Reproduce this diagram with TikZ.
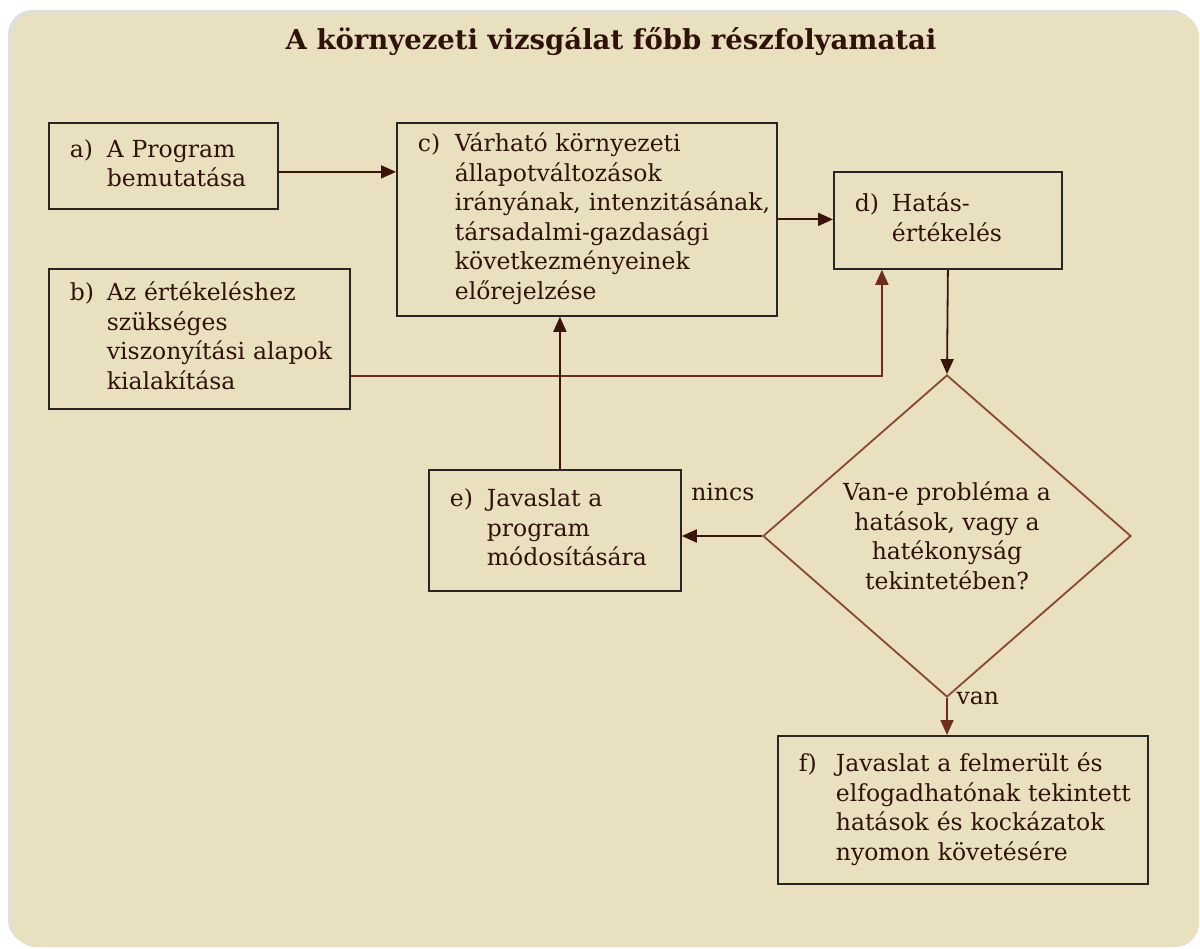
\documentclass[tikz,border=0pt]{standalone}
\usepackage{fontspec}
\setmainfont{DejaVu Serif}
\usetikzlibrary{shapes.geometric,arrows.meta,shadows}
\definecolor{panelfill}{RGB}{233,224,192}
\definecolor{inkbrown}{RGB}{48,18,10}
\definecolor{linebrown}{RGB}{58,20,12}
\definecolor{redbrown}{RGB}{112,44,26}
\definecolor{diabrown}{RGB}{138,72,46}
\tikzset{my arrow/.style={
  linebrown,
  line width=1.8pt,
  -{Triangle[length=15pt,width=13pt]}
  },
  my box/.style={
  draw=black!85,
  line width=1.8pt,
  anchor=north west,
  inner xsep=21pt,
  inner ysep=0pt,
  align=left,
  text=inkbrown,
  font=\fontsize{23.5}{29.5}\selectfont
  }
}
\newcommand{\steptext}[1]{\begin{tabular}{@{}p{37pt}@{}l@{}}#1\end{tabular}}

\begin{document}
\begin{tikzpicture}[x=1pt,y=-1pt]
    \useasboundingbox (0,0) rectangle (1200,949);
    \fill[white] (0,0) rectangle (1200,949);
    \fill[panelfill,rounded corners=24pt,drop shadow={shadow xshift=-4pt,shadow yshift=3pt,opacity=.25}] (12,13) rectangle (1199,947);

    \node[text=inkbrown,font=\fontsize{27.5}{30}\selectfont\bfseries] (title) at (611,42) {A környezeti vizsgálat főbb részfolyamatai};

    \node[my box,text width=187pt,minimum height=86pt] (a) at (48,122) {\steptext{a) & A Program\\ & bemutatása}};
    \node[my box,text width=259pt,minimum height=140pt] (b) at (48,268) {\steptext{b) & Az értékeléshez\\ & szükséges\\ & viszonyítási alapok\\ & kialakítása}};
    \node[my box,text width=338pt,minimum height=193pt] (c) at (396,122) {\steptext{c) & Várható környezeti\\ & állapotváltozások\\ & irányának, intenzitásának,\\ & társadalmi-gazdasági\\ & következményeinek\\ & előrejelzése}};
    \node[my box,text width=186pt,minimum height=97pt] (d) at (833,171) {\steptext{d) & Hatás-\\ & értékelés}};
    \node[my box,text width=210pt,minimum height=121pt] (e) at (428,469) {\steptext{e) & Javaslat a\\ & program\\ & módosítására}};
    \node[my box,text width=328pt,minimum height=148pt] (f) at (777,735) {\steptext{f) & Javaslat a felmerült és\\ & elfogadhatónak tekintett\\ & hatások és kockázatok\\ & nyomon követésére}};

    \node[diamond,draw=diabrown,line width=1.8pt,aspect=1.15,inner sep=0pt,minimum width=368pt,minimum height=322pt,align=center,text=inkbrown,font=\fontsize{23.5}{29.5}\selectfont] (Q) at (947,536) {Van-e probléma a\\hatások, vagy a\\hatékonyság\\tekintetében?};

    \node[anchor=west,text=inkbrown,font=\fontsize{23.5}{25}\selectfont] (nincs) at ([xshift=6pt,yshift=-23pt]e.north east) {nincs};
    \node[anchor=west,text=inkbrown,font=\fontsize{23.5}{25}\selectfont] (van) at ([xshift=6pt]Q.south) {van};

    \draw[my arrow] ([yshift=-6pt]a.east) -- ([yshift=-6pt]a.east -| c.west);
    \draw[my arrow] (c.east) -- (c.east -| d.west);
    \draw[my arrow,redbrown] ([yshift=-37pt]b.east) -| ([xshift=-66pt]d.south);
    \draw[my arrow] ([xshift=5pt]e.north) -- ([xshift=5pt]e.north |- c.south);
    \draw[my arrow] (d.south) -- (Q.north);
    \draw[my arrow] (Q.west) -- (Q.west -| e.east);
    \draw[my arrow,redbrown] (Q.south) -- (Q.south |- f.north);
\end{tikzpicture}
\end{document}
